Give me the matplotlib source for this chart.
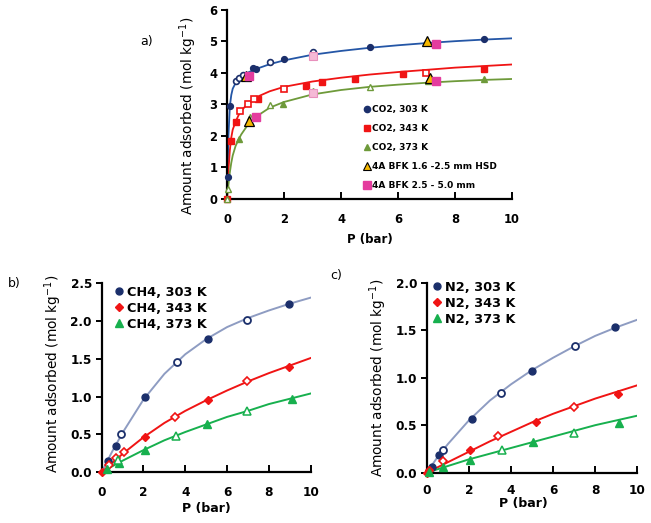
import matplotlib
matplotlib.use("Agg")
import matplotlib.pyplot as plt
from matplotlib.lines import Line2D

plt.rcParams['font.family'] = ['DejaVu Sans']

# ---------------- data: CO2 (panel a) ----------------
co2_303_p_fill = [0.03, 0.1, 0.91, 1.03, 2.0, 5.0, 9.0]
co2_303_q_fill = [0.7, 2.95, 4.15, 4.12, 4.43, 4.84, 5.08]
co2_303_p_open = [0.33, 0.43, 0.56, 1.5, 3.0]
co2_303_q_open = [3.73, 3.83, 3.95, 4.36, 4.66]

co2_343_p_fill = [0.0, 0.14, 0.32, 1.08, 2.78, 3.33, 4.5, 6.16, 9.0]
co2_343_q_fill = [0.0, 1.85, 2.46, 3.18, 3.6, 3.7, 3.81, 3.96, 4.12]
co2_343_p_open = [0.44, 0.73, 0.94, 1.99, 6.98]
co2_343_q_open = [2.78, 3.02, 3.17, 3.5, 4.01]

co2_373_p_fill = [0.43, 1.96, 9.0]
co2_373_q_fill = [1.9, 3.01, 3.82]
co2_373_p_open = [0.0, 0.03, 0.8, 1.5, 3.02, 5.0, 7.04]
co2_373_q_open = [0.0, 0.32, 2.6, 2.98, 3.44, 3.55, 3.73]

hsd_p = [0.68, 0.78, 7.02, 7.11]
hsd_q = [3.89, 2.49, 5.0, 3.84]

bfk_p = [0.78, 1.0, 7.32, 7.33]
bfk_q = [3.91, 2.6, 4.92, 3.75]
bfk_light_p = [3.02, 3.02]
bfk_light_q = [4.54, 3.36]

co2_fit_p = [0, 0.02, 0.05, 0.1, 0.15, 0.2, 0.3, 0.4, 0.5, 0.75, 1, 1.5, 2, 3, 4, 5, 6, 7, 8, 9, 10]
co2_303_fit = [0, 0.7, 2.0, 2.95, 3.3, 3.5, 3.68, 3.8, 3.88, 4.02, 4.12, 4.28, 4.4, 4.58, 4.7, 4.8, 4.88, 4.95, 5.01, 5.06, 5.1]
co2_343_fit = [0, 0.4, 0.9, 1.55, 1.95, 2.2, 2.45, 2.65, 2.8, 3.05, 3.22, 3.42, 3.56, 3.73, 3.85, 3.95, 4.03, 4.1, 4.17, 4.22, 4.27]
co2_373_fit = [0, 0.2, 0.45, 0.85, 1.15, 1.38, 1.68, 1.88, 2.05, 2.38, 2.6, 2.9, 3.08, 3.32, 3.46, 3.56, 3.63, 3.69, 3.74, 3.78, 3.81]

# ---------------- data: CH4 (panel b) ----------------
ch4_303_p_fill = [0.32, 0.67, 2.06, 5.1, 8.98]
ch4_303_q_fill = [0.15, 0.34, 0.99, 1.76, 2.22]
ch4_303_p_open = [0.91, 3.59, 6.94]
ch4_303_q_open = [0.5, 1.46, 2.02]

ch4_343_p_fill = [0.0, 2.06, 5.1, 8.98]
ch4_343_q_fill = [0.0, 0.47, 0.95, 1.39]
ch4_343_p_open = [0.37, 0.69, 1.07, 3.51, 6.97]
ch4_343_q_open = [0.09, 0.18, 0.26, 0.73, 1.2]

ch4_373_p_fill = [0.24, 0.81, 2.07, 5.06, 9.09]
ch4_373_q_fill = [0.04, 0.12, 0.29, 0.63, 0.97]
ch4_373_p_open = [0.8, 3.54, 6.94]
ch4_373_q_open = [0.16, 0.48, 0.81]

fit_p = [0, 0.5, 1, 2, 3, 4, 5, 6, 7, 8, 9, 10]
ch4_303_fit = [0, 0.27, 0.52, 0.96, 1.3, 1.56, 1.76, 1.92, 2.04, 2.14, 2.23, 2.31]
ch4_343_fit = [0, 0.12, 0.24, 0.46, 0.65, 0.81, 0.95, 1.08, 1.2, 1.31, 1.41, 1.51]
ch4_373_fit = [0, 0.075, 0.15, 0.29, 0.42, 0.53, 0.63, 0.73, 0.81, 0.9, 0.97, 1.04]

# ---------------- data: N2 (panel c) ----------------
n2_303_p_fill = [0.24, 0.6, 2.14, 4.98, 8.96]
n2_303_q_fill = [0.06, 0.19, 0.56, 1.07, 1.53]
n2_303_p_open = [0.79, 3.51, 7.03]
n2_303_q_open = [0.24, 0.84, 1.33]

n2_343_p_fill = [0.0, 0.13, 2.06, 5.17, 9.07]
n2_343_q_fill = [0.0, 0.03, 0.24, 0.53, 0.83]
n2_343_p_open = [0.76, 3.4, 6.99]
n2_343_q_open = [0.12, 0.39, 0.69]

n2_373_p_fill = [0.13, 0.76, 2.06, 5.06, 9.15]
n2_373_q_fill = [0.01, 0.06, 0.13, 0.32, 0.52]
n2_373_p_open = [3.59, 6.99]
n2_373_q_open = [0.24, 0.42]

n2_303_fit = [0, 0.16, 0.3, 0.55, 0.76, 0.93, 1.08, 1.21, 1.33, 1.44, 1.53, 1.61]
n2_343_fit = [0, 0.055, 0.11, 0.22, 0.33, 0.43, 0.53, 0.62, 0.7, 0.78, 0.85, 0.92]
n2_373_fit = [0, 0.035, 0.07, 0.14, 0.2, 0.26, 0.32, 0.38, 0.44, 0.5, 0.55, 0.6]

x_ticks = [0, 2, 4, 6, 8, 10]

# ---------------- styling ----------------
NAVY = '#1B2F6B'
BLUE_LINE = '#2456A6'
RED = '#F01414'
OLIVE = '#6E9A3A'
GREEN = '#17B04E'
GREYBLUE = '#8E9CC2'
ORANGE = '#F5B800'
PINK = '#E43C9E'
LIGHTPINK = '#F5B9D6'
YLABEL = 'Amount adsorbed (mol kg$^{\\mathregular{-1}}$)'

fig = plt.figure(figsize=(6.51, 5.23), dpi=100)


def style_axes(ax, ylim, yticks, yfmt, tsize, xpad=10):
    ax.set_xlim(0, 10)
    ax.set_ylim(*ylim)
    ax.set_xticks(x_ticks)
    ax.set_yticks(yticks)
    ax.set_yticklabels([yfmt.format(v) for v in yticks])
    for s in ['top', 'right']:
        ax.spines[s].set_visible(False)
    for s in ['left', 'bottom']:
        ax.spines[s].set_linewidth(1.6)
        ax.spines[s].set_color('black')
    ax.tick_params(axis='x', direction='in', length=5, width=1.4, labelsize=tsize, pad=xpad)
    ax.tick_params(axis='y', direction='out', length=4, width=1.4, labelsize=tsize, pad=3)
    for lab in ax.get_xticklabels() + ax.get_yticklabels():
        lab.set_fontweight('bold')


def pts(ax, p, q, marker, color, ms, filled, z=4, mew=1.0):
    ax.plot(p, q, linestyle='none', marker=marker, ms=ms,
            markerfacecolor=color if filled else 'white',
            markeredgecolor=color, markeredgewidth=mew, zorder=z, clip_on=False)


# ---------------- panel a ----------------
axa = fig.add_axes([0.3487, 0.6195, 0.4378, 0.3614])
style_axes(axa, (0, 6), [0, 1, 2, 3, 4, 5, 6], '{:.0f}', 8.3)
axa.plot(co2_fit_p, co2_303_fit, color=BLUE_LINE, lw=1.3, zorder=2)
axa.plot(co2_fit_p, co2_343_fit, color=RED, lw=1.3, zorder=2)
axa.plot(co2_fit_p, co2_373_fit, color=OLIVE, lw=1.3, zorder=2)
pts(axa, co2_303_p_fill, co2_303_q_fill, 'o', NAVY, 4.2, True)
pts(axa, co2_303_p_open, co2_303_q_open, 'o', NAVY, 4.2, False, mew=1.2)
pts(axa, co2_343_p_fill, co2_343_q_fill, 's', RED, 4.5, True)
pts(axa, co2_343_p_open, co2_343_q_open, 's', RED, 4.5, False, mew=1.2)
pts(axa, co2_373_p_fill, co2_373_q_fill, '^', OLIVE, 4.5, True)
pts(axa, co2_373_p_open, co2_373_q_open, '^', OLIVE, 4.5, False, mew=1.0)
axa.plot(hsd_p, hsd_q, linestyle='none', marker='^', ms=7, markerfacecolor=ORANGE,
         markeredgecolor='black', markeredgewidth=0.9, zorder=5)
axa.plot(bfk_p, bfk_q, linestyle='none', marker='s', ms=6, markerfacecolor=PINK,
         markeredgecolor=PINK, zorder=6)
axa.plot(bfk_light_p, bfk_light_q, linestyle='none', marker='s', ms=6, markerfacecolor=LIGHTPINK,
         markeredgecolor='#E890BC', markeredgewidth=0.8, zorder=6)
axa.set_xlabel('P (bar)', fontsize=8.5, fontweight='bold')
axa.xaxis.set_label_coords(0.5, -0.18)
axa.set_ylabel(YLABEL, fontsize=9.8)
axa.yaxis.set_label_coords(-0.1, 0.44)

h_a = [
    Line2D([], [], ls='none', marker='o', ms=4.5, color=NAVY),
    Line2D([], [], ls='none', marker='s', ms=5, color=RED),
    Line2D([], [], ls='none', marker='^', ms=5, color=OLIVE),
    Line2D([], [], ls='none', marker='^', ms=6, markerfacecolor=ORANGE, markeredgecolor='black', markeredgewidth=0.8),
    Line2D([], [], ls='none', marker='s', ms=5.5, color=PINK),
]
l_a = ['CO2, 303 K', 'CO2, 343 K', 'CO2, 373 K', '4A BFK 1.6 -2.5 mm HSD', '4A BFK 2.5 - 5.0 mm']
axa.legend(h_a, l_a, loc='upper left', bbox_to_anchor=(0.481, 0.497), frameon=False,
           prop={'weight': 'bold', 'size': 6.5}, handlelength=0.6, handletextpad=0.3,
           labelspacing=1.1, borderaxespad=0, borderpad=0)

fig.text(140 / 651, 1 - 42 / 523, 'a)', fontsize=9, va='center', ha='left')

# ---------------- panel b ----------------
axb = fig.add_axes([0.1562, 0.0975, 0.321, 0.3608])
style_axes(axb, (0, 2.5), [0, 0.5, 1.0, 1.5, 2.0, 2.5], '{:.1f}', 8.7)
axb.plot(fit_p, ch4_303_fit, color=GREYBLUE, lw=1.4, zorder=2)
axb.plot(fit_p, ch4_343_fit, color=RED, lw=1.4, zorder=2)
axb.plot(fit_p, ch4_373_fit, color=GREEN, lw=1.4, zorder=2)
pts(axb, ch4_303_p_fill, ch4_303_q_fill, 'o', NAVY, 5, True)
pts(axb, ch4_303_p_open, ch4_303_q_open, 'o', NAVY, 5, False, mew=1.3)
pts(axb, ch4_343_p_fill, ch4_343_q_fill, 'D', RED, 4.3, True)
pts(axb, ch4_343_p_open, ch4_343_q_open, 'D', RED, 4.3, False, mew=1.2)
pts(axb, ch4_373_p_fill, ch4_373_q_fill, '^', GREEN, 5.5, True)
pts(axb, ch4_373_p_open, ch4_373_q_open, '^', GREEN, 5.5, False, mew=1.1)
axb.set_xlabel('P (bar)', fontsize=9, fontweight='bold')
axb.xaxis.set_label_coords(0.5, -0.159)
axb.set_ylabel(YLABEL, fontsize=9.8)
axb.yaxis.set_label_coords(-0.18, 0.52)

h_b = [
    Line2D([], [], ls='none', marker='o', ms=5, color=NAVY),
    Line2D([], [], ls='none', marker='D', ms=4.5, color=RED),
    Line2D([], [], ls='none', marker='^', ms=5.5, color=GREEN),
]
axb.legend(h_b, ['CH4, 303 K', 'CH4, 343 K', 'CH4, 373 K'], loc='upper left',
           bbox_to_anchor=(0.064, 0.986), frameon=False, prop={'weight': 'bold', 'size': 9.3},
           handlelength=0.6, handletextpad=0.35, labelspacing=0.22, borderaxespad=0, borderpad=0)
fig.text(8 / 651, 1 - 283 / 523, 'b)', fontsize=9, va='center', ha='left')

# ---------------- panel c ----------------
axc = fig.add_axes([0.6555, 0.0962, 0.3235, 0.3633])
style_axes(axc, (0, 2.0), [0, 0.5, 1.0, 1.5, 2.0], '{:.1f}', 8.7, xpad=8.5)
axc.plot(fit_p, n2_303_fit, color=GREYBLUE, lw=1.4, zorder=2)
axc.plot(fit_p, n2_343_fit, color=RED, lw=1.4, zorder=2)
axc.plot(fit_p, n2_373_fit, color=GREEN, lw=1.4, zorder=2)
pts(axc, n2_303_p_fill, n2_303_q_fill, 'o', NAVY, 5, True)
pts(axc, n2_303_p_open, n2_303_q_open, 'o', NAVY, 5, False, mew=1.3)
pts(axc, n2_343_p_fill, n2_343_q_fill, 'D', RED, 4.3, True)
pts(axc, n2_343_p_open, n2_343_q_open, 'D', RED, 4.3, False, mew=1.2)
pts(axc, n2_373_p_fill, n2_373_q_fill, '^', GREEN, 5.5, True)
pts(axc, n2_373_p_open, n2_373_q_open, '^', GREEN, 5.5, False, mew=1.1)
axc.set_xlabel('P (bar)', fontsize=9, fontweight='bold')
axc.xaxis.set_label_coords(0.46, -0.13)
axc.set_ylabel(YLABEL, fontsize=9.8)
axc.yaxis.set_label_coords(-0.18, 0.5)

h_c = [
    Line2D([], [], ls='none', marker='o', ms=5, color=NAVY),
    Line2D([], [], ls='none', marker='D', ms=4.5, color=RED),
    Line2D([], [], ls='none', marker='^', ms=5.5, color=GREEN),
]
axc.legend(h_c, ['N2, 303 K', 'N2, 343 K', 'N2, 373 K'], loc='upper left',
           bbox_to_anchor=(0.03, 1.009), frameon=False, prop={'weight': 'bold', 'size': 9.3},
           handlelength=0.6, handletextpad=0.35, labelspacing=0.22, borderaxespad=0, borderpad=0)
fig.text(330 / 651, 1 - 275 / 523, 'c)', fontsize=9, va='center', ha='left')

fig.savefig('out.png', dpi=100)
